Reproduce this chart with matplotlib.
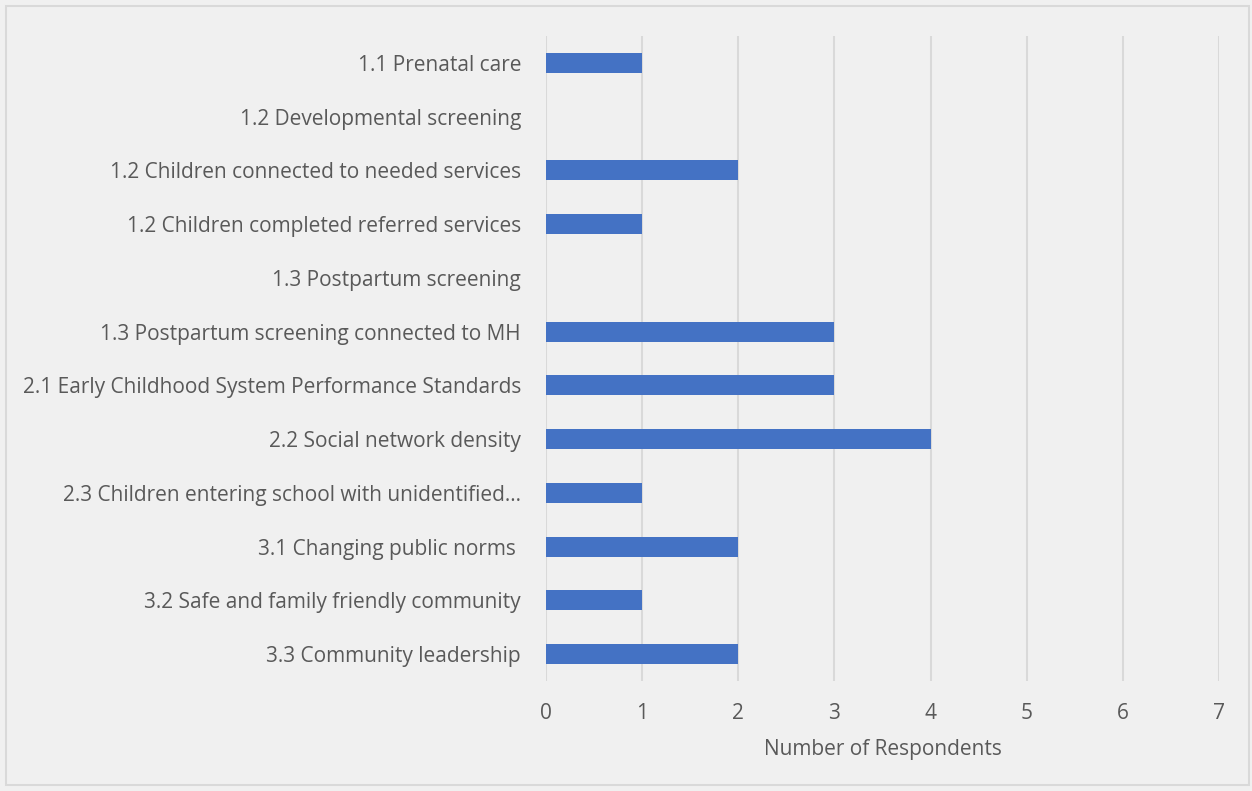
import matplotlib
matplotlib.use("Agg")
import matplotlib.pyplot as plt
from matplotlib.patches import Rectangle

categories = [
    "1.1 Prenatal care",
    "1.2 Developmental screening",
    "1.2 Children connected to needed services",
    "1.2 Children completed referred services",
    "1.3 Postpartum screening",
    "1.3 Postpartum screening connected to MH",
    "2.1 Early Childhood System Performance Standards",
    "2.2 Social network density",
    "2.3 Children entering school with unidentified\u2026",
    "3.1 Changing public norms ",
    "3.2 Safe and family friendly community",
    "3.3 Community leadership",
]
respondents = [1, 0, 2, 1, 0, 3, 3, 4, 1, 2, 1, 2]
x_ticks = [0, 1, 2, 3, 4, 5, 6, 7]
x_label = "Number of Respondents"

BG = "#F0F0F0"
TEXT = "#595959"
GRID = "#D9D9D9"
BAR = "#4472C4"
FS = 15

plt.rcParams["font.family"] = ["Open Sans", "DejaVu Sans"]

fig = plt.figure(figsize=(12.52, 7.91), dpi=100, facecolor=BG)
fig.patches.append(Rectangle((6 / 1252, 6 / 791), 1243 / 1252, 779 / 791,
                             transform=fig.transFigure, fill=False,
                             edgecolor=GRID, lw=1.5))

ax = fig.add_axes([546 / 1252, 1 - 681 / 791, 673 / 1252, 645 / 791])
ax.set_facecolor(BG)

y = list(range(len(categories)))
ax.barh(y, respondents, height=0.37, color=BAR, zorder=3)
ax.set_ylim(len(categories) - 0.5, -0.5)
ax.set_xlim(0, 7)
ax.set_xticks(x_ticks)
ax.set_yticks(y)
ax.set_yticklabels(categories)

for s in ax.spines.values():
    s.set_visible(False)
ax.grid(axis="x", color=GRID, lw=1.5, zorder=0)
ax.tick_params(axis="both", length=0, labelsize=FS, colors=TEXT)
ax.tick_params(axis="y", pad=18)
ax.tick_params(axis="x", pad=16)
ax.set_xlabel(x_label, fontsize=FS, color=TEXT, labelpad=11)

fig.savefig("out.png", dpi=100, facecolor=BG)
